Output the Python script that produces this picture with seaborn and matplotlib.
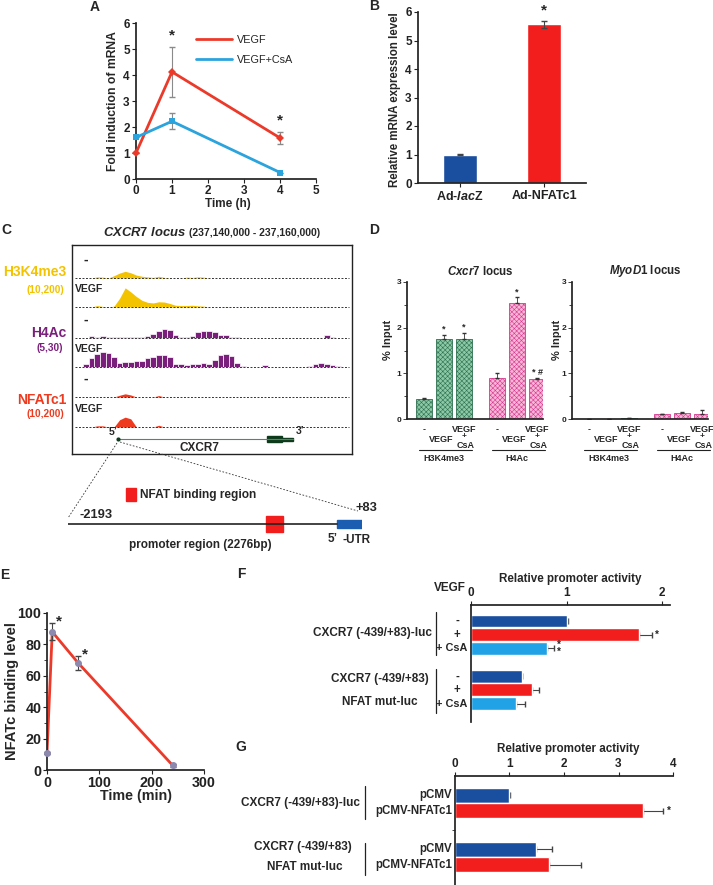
import numpy as np
import matplotlib
matplotlib.use("Agg")
import matplotlib.pyplot as plt
import matplotlib.transforms as mtransforms
from matplotlib.lines import Line2D
from matplotlib.patches import Rectangle
import seaborn as sns

W, H = 713, 885

# ── Panel A: CXCR7 mRNA time course ───────────────────────────
A_TIME = [0, 1, 4]
A_VEGF = [1.0, 4.12, 1.58]
A_VEGF_ERR = [0.0, 0.95, 0.22]
A_CSA = [1.6, 2.22, 0.25]
A_CSA_ERR = [0.0, 0.30, 0.0]
A_MARKS = ["", "*", "*"]

# ── Panel B: adenoviral NFATc1 ─────────────────────────────────
B_GROUPS = ["Ad-$\\mathit{lac}$Z", "Ad-NFATc1"]
B_VALUES = [1.0, 5.57]
B_ERR = [0.01, 0.12]

# ── Panel C: ChIP-seq tracks, 0.4 kb bins over 237,140,000-237,160,000 ──
C_BIN_KB = 0.4
C_H3K4_CTRL = [0, 0, 0, 0, .04, .03, 0, .08, .17, .23,
               .18, .10, .06, .04, .02, .06, .02, 0, 0, 0,
               .03, .02, .04, .03, 0, 0, 0, 0, 0, 0,
               0, 0, 0, 0, 0, 0, 0, 0, 0, 0,
               0, 0, 0, 0, 0, 0, 0, 0, 0, 0]
C_H3K4_VEGF = [0, 0, 0, 0, .05, .02, 0, .03, .30, .66,
               .52, .36, .23, .16, .14, .18, .17, .12, .06, .05,
               .05, .06, .04, .03, 0, 0, 0, .02, 0, 0,
               0, 0, 0, 0, 0, .02, 0, 0, 0, 0,
               0, 0, 0, 0, 0, .02, 0, 0, 0, 0]
C_H4AC_CTRL = [0, 0, 0, .06, .05, .07, .04, .05, .03, .04,
               .05, .04, .05, .08, .15, .25, .32, .26, .10, .04,
               .03, .06, .20, .25, .24, .22, .12, .10, .03, .02,
               0, 0, 0, 0, 0, 0, 0, 0, 0, 0,
               0, 0, 0, 0, 0, .10, .05, 0, 0, 0]
C_H4AC_VEGF = [0, 0, .10, .30, .45, .52, .50, .35, .15, .18,
               .17, .20, .22, .30, .34, .40, .42, .35, .10, .10,
               .08, .12, .10, .14, .12, .25, .40, .46, .38, .15,
               .03, 0, 0, 0, .08, 0, 0, 0, 0, 0,
               0, 0, .05, .12, .14, .10, .06, .03, 0, 0]
C_NFAT_CTRL = [0, 0, 0, 0, 0, 0, 0, 0, .06, .11,
               .07, 0, 0, 0, 0, .05, 0, 0, 0, 0] + [0] * 30
C_NFAT_VEGF = [0, 0, 0, 0, .04, .04, 0, 0, .25, .34,
               .28, 0, 0, 0, 0, .06, 0, 0, 0, 0] + [0] * 30
C_GENE_KB = (3.3, 15.8)
C_CDS_KB = (13.9, 15.0)

# ── Panel D: ChIP-qPCR ─────────────────────────────────────────
D_CXCR7_H3K4 = [0.44, 1.76, 1.76]
D_CXCR7_H3K4_ERR = [0.01, 0.09, 0.13]
D_CXCR7_H4AC = [0.89, 2.54, 0.87]
D_CXCR7_H4AC_ERR = [0.11, 0.13, 0.03]
D_CXCR7_MARKS = ["", "*", "*", "", "*", "* #"]
D_MYOD_H3K4 = [0.01, 0.01, 0.02]
D_MYOD_H3K4_ERR = [0.0, 0.0, 0.01]
D_MYOD_H4AC = [0.11, 0.13, 0.12]
D_MYOD_H4AC_ERR = [0.01, 0.03, 0.07]
D_MYOD_MARKS = [""] * 6

# ── Panel E: NFATc binding time course ─────────────────────────
E_TIME = [0, 10, 60, 240]
E_BINDING = [11, 88, 68, 3]
E_ERR = [0.5, 5.5, 4.5, 1.0]
E_MARKS = ["", "*", "*", ""]

# ── Panel F: promoter activity, VEGF / CsA ─────────────────────
F_TREAT = ["-", "+", "+ CsA"]
F_WT = [1.0, 1.755, 0.79]
F_WT_ERR = [0.01, 0.14, 0.08]
F_MUT = [0.53, 0.64, 0.47]
F_MUT_ERR = [0.0, 0.07, 0.09]
F_MARKS = ["", "*", "*\n*", "", "", ""]

# ── Panel G: promoter activity, NFATc1 overexpression ──────────
G_TREAT = ["pCMV", "pCMV-NFATc1"]
G_WT = [1.0, 3.45]
G_WT_ERR = [0.01, 0.37]
G_MUT = [1.48, 1.73]
G_MUT_ERR = [0.30, 0.58]
G_MARKS = ["", "*", "", ""]

RED_LINE = "#EC3A2A"
BLUE_LINE = "#2BA3DD"
RED_BAR = "#F21E1E"
NAVY = "#1A4E9E"
SKY = "#22A2E6"
YELLOW = "#F3C300"
PURPLE = "#7B1F7C"
TRACK_RED = "#EE3B1F"

sns.set_theme(style="ticks")
plt.rcParams["font.family"] = ["Liberation Sans", "DejaVu Sans"]
plt.rcParams["font.weight"] = "bold"
plt.rcParams["axes.labelweight"] = "bold"
plt.rcParams["mathtext.fontset"] = "custom"
plt.rcParams["mathtext.it"] = "Liberation Sans:italic:bold"
plt.rcParams["mathtext.rm"] = "Liberation Sans:bold"
plt.rcParams["mathtext.bf"] = "Liberation Sans:bold"
plt.rcParams["hatch.linewidth"] = 0.4
plt.rcParams["axes.edgecolor"] = "#222222"
plt.rcParams["xtick.color"] = "#222222"
plt.rcParams["ytick.color"] = "#222222"

fig = plt.figure(figsize=(W / 100, H / 100), dpi=100)


def px_axes(left, top, right, bottom):
    return fig.add_axes([left / W, 1 - bottom / H, (right - left) / W, (bottom - top) / H])


def ftext(x, y, s, **kw):
    kw.setdefault("ha", "center")
    kw.setdefault("va", "center")
    kw.setdefault("fontweight", "bold")
    fig.text(x / W, 1 - y / H, s, **kw)


def fline(x0, y0, x1, y1, **kw):
    fig.add_artist(Line2D([x0 / W, x1 / W], [1 - y0 / H, 1 - y1 / H],
                          transform=fig.transFigure, **kw))


def place_labels(ax, xlab=None, ylab=None):
    # label coordinates given as text centres in axes fraction
    if xlab is not None:
        ax.xaxis.set_label_coords(*xlab)
        ax.xaxis.label.set_va("center")
    if ylab is not None:
        ax.yaxis.set_label_coords(*ylab)
        ax.yaxis.label.set_va("center")


# panel letters
for letter, (lx, ly) in zip("ABCDEFG", [(95, 7), (374, 6), (6, 230), (374, 230),
                                        (5, 575), (241, 574), (241, 747)]):
    ftext(lx, ly, letter, fontsize=10)

# ── A ──────────────────────────────────────────────────────────
ax = px_axes(136, 23, 316, 179)
ax.errorbar(A_TIME, A_VEGF, yerr=A_VEGF_ERR, fmt="none", ecolor="#8a8a8a",
            elinewidth=0.8, capsize=2.5, zorder=2)
ax.errorbar(A_TIME, A_CSA, yerr=A_CSA_ERR, fmt="none", ecolor="#8a8a8a",
            elinewidth=0.8, capsize=2.5, zorder=2)
sns.lineplot(x=A_TIME, y=A_VEGF, ax=ax, color=RED_LINE, lw=2, marker="D",
             markersize=4, markeredgewidth=0, zorder=3)
sns.lineplot(x=A_TIME, y=A_CSA, ax=ax, color=BLUE_LINE, lw=2, marker="s",
             markersize=5, markeredgewidth=0, zorder=3)
for line in ax.lines:
    line.set_clip_on(False)
for t, v, e, m in zip(A_TIME, A_VEGF, A_VEGF_ERR, A_MARKS):
    ax.text(t, v + e + 0.45, m, ha="center", va="center", fontsize=11)
ax.set_xlim(0, 5)
ax.set_ylim(0, 6)
ax.set_xticks(range(6))
ax.set_yticks(range(7))
ax.tick_params(labelsize=8.5, length=3, width=0.8, pad=1.5)
ax.set_xlabel("Time (h)", fontsize=8.5)
ax.set_ylabel("Fold induction of mRNA", fontsize=8.7)
place_labels(ax, (0.51, -0.16), (-0.128, 0.5))
handles = [Line2D([], [], color=RED_LINE, lw=2), Line2D([], [], color=BLUE_LINE, lw=2)]
ax.legend(handles, ["VEGF", "VEGF+CsA"], loc="upper left", bbox_to_anchor=(0.31, 0.95),
          frameon=False, handlelength=3.3, handletextpad=0.5, labelspacing=0.9,
          borderaxespad=0, prop={"weight": "normal", "size": 7.8})
sns.despine(ax=ax)

# ── B ──────────────────────────────────────────────────────────
ax = px_axes(418, 12, 586, 183)
sns.barplot(x=B_GROUPS, y=B_VALUES, hue=B_GROUPS, palette=[NAVY, RED_BAR], width=0.4,
            saturation=1, errorbar=None, legend=False, ax=ax)
ax.errorbar(range(len(B_VALUES)), B_VALUES, yerr=B_ERR, fmt="none", ecolor="#444",
            elinewidth=0.8, capsize=2.5)
ax.text(1, B_VALUES[1] + B_ERR[1] + 0.35, "*", ha="center", va="center", fontsize=11)
ax.set_xlim(-0.5, 1.5)
ax.set_ylim(0, 6)
ax.set_yticks(range(7))
ax.tick_params(axis="y", labelsize=8.5, length=3, width=0.8, pad=1.5)
ax.tick_params(axis="x", labelsize=9, length=3, width=0.8, pad=2)
ax.set_ylabel("Relative mRNA expression level", fontsize=8.3)
place_labels(ax, None, (-0.137, 0.49))
sns.despine(ax=ax)

# ── C ──────────────────────────────────────────────────────────
ax = px_axes(72, 245, 352, 454)
ax.set_xlim(0, 20)
ax.set_ylim(209, 0)
ax.set_xticks([])
ax.set_yticks([])
for sp in ax.spines.values():
    sp.set_linewidth(1.0)
bins = np.arange(len(C_H3K4_CTRL)) * C_BIN_KB + C_BIN_KB / 2
track_h = 29
tracks = [(C_H3K4_CTRL, 33, YELLOW, "fill"), (C_H3K4_VEGF, 62, YELLOW, "fill"),
          (C_H4AC_CTRL, 93, PURPLE, "bar"), (C_H4AC_VEGF, 122, PURPLE, "bar"),
          (C_NFAT_CTRL, 152, TRACK_RED, "fill"), (C_NFAT_VEGF, 182, TRACK_RED, "fill")]
for i, (vals, base, col, kind) in enumerate(tracks):
    vals = np.asarray(vals)
    if kind == "bar":
        ax.bar(bins, -vals * track_h, bottom=base, width=C_BIN_KB, color=col,
               edgecolor="white", linewidth=0.5)
    else:
        ax.fill_between(bins, base, base - vals * track_h, color=col, lw=0)
    ax.hlines(base, 0.2, 19.8, colors="#333", linestyles=(0, (2, 1.6)), lw=0.7)
    if i % 2 == 0:
        ax.text(0.95, base - 18, "-", ha="center", va="center", fontsize=10)
    else:
        ax.text(0.2, base - 18, "VEGF", ha="left", va="center", fontsize=7.5)
ax.plot(C_GENE_KB, [194, 194], color="#4E8A60", lw=0.8)
ax.plot(C_GENE_KB[0], 194, marker="o", ms=2, color="#0E3A1C")
ax.add_patch(Rectangle((C_CDS_KB[0], 191), C_CDS_KB[1] - C_CDS_KB[0], 6, color="#0E3A1C"))
ax.add_patch(Rectangle((C_CDS_KB[1], 192.5), C_GENE_KB[1] - C_CDS_KB[1], 3, color="#0E3A1C"))
ax.text(C_GENE_KB[0] - 0.4, 187, "5’", ha="center", va="center", fontsize=7.5)
ax.text(C_GENE_KB[1] + 0.5, 186, "3’", ha="center", va="center", fontsize=7.5)
ax.text(9.1, 203, "CXCR7", ha="center", va="center", fontsize=8.5)

ftext(186, 232, "$\\mathit{CXCR7\\ locus}$", ha="right", fontsize=9.4)
ftext(189, 233, "(237,140,000 - 237,160,000)", ha="left", fontsize=7.5)
ftext(66, 272, "H3K4me3", ha="right", fontsize=10, color=YELLOW)
ftext(45, 290, "(10,200)", fontsize=7.3, color=YELLOW)
ftext(66, 333, "H4Ac", ha="right", fontsize=10, color=PURPLE)
ftext(50, 348, "(5,30)", fontsize=7.3, color=PURPLE)
ftext(66, 400, "NFATc1", ha="right", fontsize=10, color=TRACK_RED)
ftext(45, 414, "(10,200)", fontsize=7.3, color=TRACK_RED)

# zoom-in guide lines to promoter
fline(117, 443, 68, 518, color="#333", lw=0.6, ls=(0, (2, 2)))
fline(120, 442, 358, 511, color="#333", lw=0.6, ls=(0, (2, 2)))

# promoter schematic (not to scale near the UTR)
ax = px_axes(68, 480, 362, 560)
ax.set_xlim(-2193, 203)
ax.set_ylim(80, 0)
ax.axis("off")
ax.plot([-2193, 0], [44, 44], color="#222", lw=1.2)
ax.add_patch(Rectangle((-579, 36), 138, 16, color=RED_BAR))
ax.add_patch(Rectangle((0, 40), 203, 8, color="#1B5DB0"))
ftext(96, 515, "-2193", fontsize=9.3)
ftext(366, 508, "+83", fontsize=9.3)
ftext(333, 539, "5’", fontsize=8.5)
ftext(357, 540, "-UTR", fontsize=8.5)
ftext(200, 545, "promoter region (2276bp)", fontsize=8.5)
fig.add_artist(Rectangle((126 / W, 1 - 501 / H), 10 / W, 13 / H,
                         transform=fig.transFigure, color=RED_BAR))
ftext(140, 495, "NFAT binding region", ha="left", fontsize=8.6)


# ── D ──────────────────────────────────────────────────────────
def draw_chip(ax, h3k4, h3k4_err, h4ac, h4ac_err, marks, title, label_x):
    pos_h3 = np.arange(3)
    pos_h4 = np.arange(3) + 3.65
    ax.bar(pos_h3, h3k4, width=0.8, color="#8CC9A6", edgecolor="#2E7050",
           hatch="xxxxxxx", lw=0.6)
    ax.bar(pos_h4, h4ac, width=0.8, color="#FAB6D8", edgecolor="#D43A8E",
           hatch="xxxxxxx", lw=0.6)
    pos = np.concatenate([pos_h3, pos_h4])
    vals = list(h3k4) + list(h4ac)
    errs = list(h3k4_err) + list(h4ac_err)
    ax.errorbar(pos, vals, yerr=[np.zeros(6), errs], fmt="none", ecolor="#333",
                elinewidth=0.6, capsize=1.5)
    for p, v, e, m in zip(pos, vals, errs, marks):
        ax.text(p, v + e + 0.12, m, ha="center", va="center", fontsize=6.5)
    ax.set_xlim(-0.85, 5.95)
    ax.set_ylim(0, 3)
    ax.set_xticks([])
    ax.set_yticks(range(4))
    ax.set_yticks(np.arange(0.5, 3, 1), minor=True)
    ax.tick_params(axis="y", which="major", labelsize=6, length=3, width=0.6, pad=1)
    ax.tick_params(axis="y", which="minor", length=2, width=0.6)
    ax.set_ylabel("% Input", fontsize=8)
    place_labels(ax, None, (label_x, 0.58))
    ax.text(0.54, 1.08, title, transform=ax.transAxes, ha="center", va="center", fontsize=8.3)
    tr = ax.get_xaxis_transform()
    for start, name in [(pos_h3[0], "H3K4me3"), (pos_h4[0], "H4Ac")]:
        ax.text(start, -0.08, "-", transform=tr, ha="center", va="center", fontsize=6.5)
        ax.text(start + 2, -0.08, "VEGF", transform=tr, ha="center", va="center", fontsize=6.5)
        ax.text(start + 0.85, -0.146, "VEGF", transform=tr, ha="center", va="center", fontsize=6.5)
        ax.text(start + 2, -0.13, "+", transform=tr, ha="center", va="center", fontsize=6)
        ax.text(start + 2.1, -0.19, "CsA", transform=tr, ha="center", va="center", fontsize=6.5)
        ax.plot([start - 0.25, start + 2.4], [-0.225, -0.225], transform=tr, color="#222",
                lw=0.8, clip_on=False)
        ax.text(start + 1, -0.285, name, transform=tr, ha="center", va="center", fontsize=6.5)
    sns.despine(ax=ax)


draw_chip(px_axes(407, 282, 543, 419), D_CXCR7_H3K4, D_CXCR7_H3K4_ERR, D_CXCR7_H4AC,
          D_CXCR7_H4AC_ERR, D_CXCR7_MARKS, "$\\mathit{Cxcr7}$ locus", -0.14)
draw_chip(px_axes(572, 282, 708, 419), D_MYOD_H3K4, D_MYOD_H3K4_ERR, D_MYOD_H4AC,
          D_MYOD_H4AC_ERR, D_MYOD_MARKS, "$\\mathit{MyoD1}$ locus", -0.11)

# ── E ──────────────────────────────────────────────────────────
ax = px_axes(47, 613, 204, 770)
sns.lineplot(x=E_TIME, y=E_BINDING, ax=ax, color=RED_LINE, lw=2, zorder=2)
ax.errorbar(E_TIME, E_BINDING, yerr=E_ERR, fmt="o", color="#8C88AE", ms=4,
            ecolor="#444", elinewidth=0.8, capsize=2.5, zorder=3, clip_on=False)
for t, v, e, m in zip(E_TIME, E_BINDING, E_ERR, E_MARKS):
    ax.text(t + 12, v + e + 1, m, ha="center", va="center", fontsize=11)
ax.set_xlim(0, 300)
ax.set_ylim(0, 100)
ax.set_xticks([0, 100, 200, 300])
ax.set_yticks(range(0, 101, 20))
ax.set_yticks(range(10, 100, 20), minor=True)
ax.tick_params(which="major", labelsize=10.3, length=3, width=0.8, pad=1)
ax.tick_params(which="minor", length=2, width=0.6)
ax.set_xlabel("Time (min)", fontsize=10.3)
ax.set_ylabel("NFATc binding level", fontsize=10.5)
place_labels(ax, (0.57, -0.168), (-0.223, 0.5))
sns.despine(ax=ax)


# ── F / G ──────────────────────────────────────────────────────
def draw_hbars(ax, pos, vals, errs, colors, marks, height, xmax, xticks):
    ax.errorbar(vals, pos, xerr=[np.zeros(len(errs)), errs], fmt="none", ecolor="#444",
                elinewidth=0.8, capsize=2, zorder=1)
    ax.barh(pos, vals, height=height, color=colors, zorder=2)
    for p, v, e, m in zip(pos, vals, errs, marks):
        ax.text(v + e + 0.05 * xmax / 2, p, m, ha="center", va="center", fontsize=7,
                linespacing=0.6)
    ax.set_xlim(0, xmax)
    ax.xaxis.tick_top()
    ax.set_xticks(xticks)
    ax.set_yticks([])
    ax.tick_params(axis="x", labelsize=8.5, length=3, width=0.8, pad=1)
    ax.spines["bottom"].set_visible(False)
    ax.spines["right"].set_visible(False)


ax = px_axes(471, 605, 670, 722)
f_pos = [0, 1, 2, 4.07, 5.07, 6.07]
draw_hbars(ax, f_pos, F_WT + F_MUT, F_WT_ERR + F_MUT_ERR, [NAVY, RED_BAR, SKY] * 2,
           F_MARKS, 0.95, 2.08, [0, 1, 2])
ax.set_ylim(7.43, -1.18)
tr = mtransforms.blended_transform_factory(ax.transAxes, ax.transData)
for p, lab in zip(f_pos, F_TREAT * 2):
    if lab.startswith("+ "):
        ax.text(-0.02, p, lab, transform=tr, ha="right", va="center", fontsize=7.8)
    else:
        ax.text(-0.07, p, lab, transform=tr, ha="center", va="center", fontsize=8.3)
for y0, y1 in [(-0.66, 2.5), (3.53, 6.76)]:
    ax.plot([-0.176, -0.176], [y0, y1], transform=tr, color="#222", lw=0.9, clip_on=False)
ax.text(-0.196, 0.88, "CXCR7 (-439/+83)-luc", transform=tr, ha="right", va="center", fontsize=8.5)
ax.text(-0.46, 4.26, "CXCR7 (-439/+83)", transform=tr, ha="center", va="center", fontsize=8.5)
ax.text(-0.46, 5.96, "NFAT mut-luc", transform=tr, ha="center", va="center", fontsize=8.5)
ftext(450, 588, "VEGF", fontsize=8.5)
ftext(570, 579, "Relative promoter activity", fontsize=8.4)

ax = px_axes(455, 776, 673, 885)
g_pos = [0, 1, 3.5, 4.5]
draw_hbars(ax, g_pos, G_WT + G_MUT, G_WT_ERR + G_MUT_ERR, [NAVY, RED_BAR] * 2,
           G_MARKS, 0.97, 4, [0, 1, 2, 3, 4])
ax.set_ylim(5.8, -1.23)
ax.set_yticks([2.25])
ax.set_yticklabels([])
ax.tick_params(axis="y", length=2, width=0.6)
tr = mtransforms.blended_transform_factory(ax.transAxes, ax.transData)
for p, lab in zip(g_pos, G_TREAT * 2):
    ax.text(-0.014, p, lab, transform=tr, ha="right", va="center", fontsize=8.3)
for y0, y1 in [(-0.58, 1.55), (3.1, 5.16)]:
    ax.plot([-0.413, -0.413], [y0, y1], transform=tr, color="#222", lw=0.9, clip_on=False)
ax.text(-0.436, 0.52, "CXCR7 (-439/+83)-luc", transform=tr, ha="right", va="center", fontsize=8.5)
ax.text(-0.70, 3.35, "CXCR7 (-439/+83)", transform=tr, ha="center", va="center", fontsize=8.5)
ax.text(-0.69, 4.65, "NFAT mut-luc", transform=tr, ha="center", va="center", fontsize=8.5)
ftext(568, 749, "Relative promoter activity", fontsize=8.4)

fig.savefig("out.png", dpi=100)
